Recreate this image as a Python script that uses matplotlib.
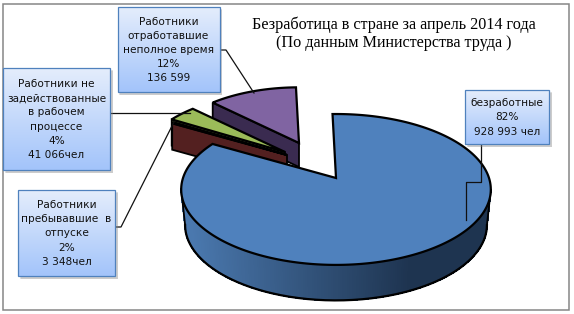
import numpy as np
import matplotlib
matplotlib.use('Agg')
import matplotlib.pyplot as plt
from matplotlib.colors import LinearSegmentedColormap, to_rgb
from matplotlib.patches import Polygon, Rectangle

title = 'Безработица в стране за апрель 2014 года\n(По данным Министерства труда )'

# people per category, the pie is drawn from these
categories = ['безработные',
              'Работники\nпребывавшие  в\nотпуске',
              'Работники не\nзадействованные\nв рабочем\nпроцессе',
              'Работники\nотработавшие\nнеполное время']
people = [928993, 3348, 41066, 136599]
percents = ['82%', '2%', '4%', '12%']
people_labels = ['928 993 чел', '3 348чел', '41 066чел', '136 599']

top_colors = ['#4f81bd', '#632523', '#9bbb59', '#8064a2']
wall_colors = ['#4a78ae', '#532020', '#4f6030', '#3a2b50']
apex_x = [336, 287, 285, 299]
apex_y = [178, 155, 152, 143]
sizes = [1.0, 0.93, 0.93, 0.87]
START = np.radians(-1.5)

box_x = [465, 18, 3, 117.5]
box_y = [90, 190, 68, 7]
box_w = [84, 97, 107, 102]
box_h = [54, 86, 102, 85]

leader_x = [[481, 481, 466, 466], [115, 121, 174], [110, 190], [220, 226, 254]]
leader_y = [[144, 182, 182, 220], [227, 227, 122], [113, 113], [50, 50, 93]]

# perspective of the pie plane
A = 73.7
B = 153.0
K = 0.152
DEPTH = 30.5
BIG_DEPTH = 35.5


def project(t, ax0, ay0, s):
    a = np.sin(t)
    b = np.cos(t)
    den = 1 + K * b
    return ax0 + s * B * a / den, ay0 - s * A * b / den, DEPTH * s / den


fig = plt.figure(figsize=(5.74, 3.14), dpi=100)
ax = fig.add_axes([0, 0, 1, 1])
ax.set_xlim(0, 574)
ax.set_ylim(314, 0)
ax.axis('off')

ax.add_patch(Rectangle((2.5, 3.5), 566.5, 306, fc='white', ec='#868686', lw=1.1, zorder=0))

fracs = np.array(people) / sum(people)
edges = np.concatenate([[0], np.cumsum(fracs)]) * 2 * np.pi + START

# back to front: purple, green, brown, blue
z = 2
for i in [3, 2, 1, 0]:
    t = np.linspace(edges[i], edges[i + 1], 400)
    x, y, d = project(t, apex_x[i], apex_y[i], sizes[i])
    ax0, ay0 = apex_x[i], apex_y[i]
    if i == 0:
        # front wall with dark gradient to the right, narrower at the bottom
        dark = np.array(to_rgb('#1e3450'))
        light = np.array(to_rgb(wall_colors[0]))
        xb = ax0 + (x - ax0) * 0.975
        yb = y + BIG_DEPTH
        keep = np.cos(t) <= -0.15
        for j in range(len(t) - 1):
            if not keep[j]:
                continue
            f = np.clip((x[j] - 190) / 220, 0, 1)
            c = light + (dark - light) * f
            ax.add_patch(Polygon([(x[j], y[j]), (x[j + 1], y[j + 1]),
                                  (xb[j + 1], yb[j + 1]), (xb[j], yb[j])],
                                 fc=c, ec=c, lw=0.5, antialiased=False, zorder=z))
        ax.plot(xb[keep], yb[keep], c='k', lw=1.6, zorder=z + 1)
        # silhouette edges of the wall
        ax.plot([x[keep][0], xb[keep][0]], [y[keep][0], yb[keep][0]], c='k', lw=1.3, zorder=z + 1)
        ax.plot([x[keep][-1], xb[keep][-1]], [y[keep][-1], yb[keep][-1]], c='k', lw=1.3, zorder=z + 1)
    else:
        # cut wall facing us
        ax.add_patch(Polygon([(x[0], y[0]), (ax0, ay0), (ax0, ay0 + d[0]), (x[0], y[0] + d[0])],
                             fc=wall_colors[i], ec='k', lw=1.3, zorder=z))
    ax.add_patch(Polygon(np.column_stack([np.r_[ax0, x], np.r_[ay0, y]]),
                         fc=top_colors[i], ec='k', lw=1.6, joinstyle='miter', zorder=z + 2))
    z += 3

for lx, ly in zip(leader_x, leader_y):
    ax.plot(lx, ly, c='#111111', lw=0.9, zorder=20)

# gradient label boxes
cmap = LinearSegmentedColormap.from_list('box', ['#e4edfc', '#a3c4fa'])
grad = np.linspace(0, 1, 64).reshape(-1, 1)
for i in range(4):
    bx, by, bw, bh = box_x[i], box_y[i], box_w[i], box_h[i]
    ax.add_patch(Rectangle((bx + 1.5, by + 2), bw + 1, bh + 1, fc='#808080', alpha=0.25, lw=0, zorder=21))
    ax.add_patch(Rectangle((bx + 2.5, by + 3), bw, bh, fc='#808080', alpha=0.2, lw=0, zorder=21))
    ax.imshow(grad, cmap=cmap, extent=[bx, bx + bw, by + bh, by], aspect='auto', zorder=22)
    ax.add_patch(Rectangle((bx, by), bw, bh, fc='none', ec='#4f81bd', lw=0.9, zorder=23))
    ax.text(bx + bw / 2, by + bh / 2 + 0.5,
            categories[i] + '\n' + percents[i] + '\n' + people_labels[i],
            ha='center', va='center', fontsize=7.6, family='DejaVu Sans',
            color='#111111', linespacing=1.52, zorder=24)

ax.set_xlim(0, 574)
ax.set_ylim(314, 0)

ax.text(394, 33.5, title, ha='center', va='center', fontsize=11.6, family='Liberation Serif',
        color='black', linespacing=1.2, zorder=24)

fig.savefig('out.png', dpi=100)
